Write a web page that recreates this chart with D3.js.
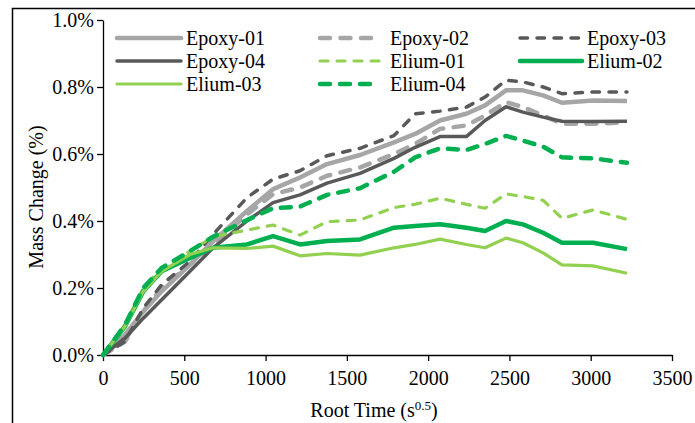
<html>
<head>
<meta charset="utf-8">
<style>
  body { margin: 0; background: #fff; }
  .axis path, .axis line { stroke: #000; stroke-width: 1.3; }
</style>
<script src="https://cdn.jsdelivr.net/npm/d3@7"></script>
</head>
<body>
<svg id="chart" width="695" height="423" font-family="'Liberation Serif', serif"></svg>
<script>
// root time (s^0.5) of each weighing
var times = [0, 135, 248, 361, 535, 677, 886, 1046, 1212, 1378, 1581, 1790, 1920, 2073, 2235, 2350, 2479, 2583, 2707, 2823, 3014, 3223];

// mass change (%) per sample
var epoxy01 = [0, 0.06, 0.13, 0.19, 0.27, 0.34, 0.43, 0.495, 0.53, 0.57, 0.597, 0.635, 0.66, 0.70, 0.72, 0.745, 0.79, 0.79, 0.775, 0.753, 0.76, 0.758];
var epoxy02 = [0, 0.04, 0.13, 0.20, 0.27, 0.33, 0.42, 0.48, 0.50, 0.535, 0.56, 0.60, 0.63, 0.675, 0.685, 0.715, 0.755, 0.74, 0.715, 0.69, 0.69, 0.695];
var epoxy03 = [0, 0.04, 0.14, 0.21, 0.28, 0.36, 0.47, 0.525, 0.55, 0.595, 0.617, 0.655, 0.72, 0.728, 0.74, 0.77, 0.82, 0.815, 0.80, 0.78, 0.785, 0.785];
var epoxy04 = [0, 0.05, 0.11, 0.165, 0.25, 0.32, 0.40, 0.455, 0.478, 0.513, 0.542, 0.587, 0.62, 0.652, 0.652, 0.70, 0.741, 0.725, 0.71, 0.698, 0.697, 0.698];
var elium01 = [0, 0.09, 0.20, 0.26, 0.31, 0.353, 0.373, 0.388, 0.358, 0.398, 0.403, 0.44, 0.45, 0.468, 0.45, 0.438, 0.481, 0.473, 0.462, 0.408, 0.433, 0.405];
var elium02 = [0, 0.085, 0.19, 0.25, 0.29, 0.32, 0.33, 0.355, 0.33, 0.34, 0.345, 0.38, 0.385, 0.39, 0.38, 0.37, 0.40, 0.39, 0.365, 0.335, 0.335, 0.316];
var elium03 = [0, 0.085, 0.19, 0.25, 0.30, 0.32, 0.318, 0.325, 0.296, 0.303, 0.298, 0.32, 0.33, 0.346, 0.33, 0.32, 0.349, 0.335, 0.305, 0.269, 0.266, 0.244];
var elium04 = [0, 0.09, 0.20, 0.26, 0.31, 0.353, 0.403, 0.438, 0.443, 0.478, 0.498, 0.547, 0.59, 0.617, 0.612, 0.63, 0.654, 0.64, 0.622, 0.59, 0.587, 0.574];

var names = ["Epoxy-01", "Epoxy-02", "Epoxy-03", "Epoxy-04", "Elium-01", "Elium-02", "Elium-03", "Elium-04"];
var values = [epoxy01, epoxy02, epoxy03, epoxy04, elium01, elium02, elium03, elium04];
var xTicks = [0, 500, 1000, 1500, 2000, 2500, 3000, 3500];
var yTicks = [0, 0.2, 0.4, 0.6, 0.8, 1.0];

var styles = [
  {color: "#a6a6a6", width: 4.5, dash: null},
  {color: "#a6a6a6", width: 4.5, dash: "10,10.5"},
  {color: "#595959", width: 3.5, dash: "7.5,9.5"},
  {color: "#595959", width: 3.5, dash: null},
  {color: "#92d050", width: 3.2, dash: "8,9"},
  {color: "#00b050", width: 4.5, dash: null},
  {color: "#92d050", width: 3.2, dash: null},
  {color: "#00b050", width: 4.5, dash: "10,10"}
];

var serif = "'Liberation Serif', serif";
var fs = 20;
var svg = d3.select("#chart");

// outer frame (right/bottom fall outside the picture)
svg.append("rect")
  .attr("x", 12.5).attr("y", 8.5)
  .attr("width", 720).attr("height", 440)
  .attr("fill", "none").attr("stroke", "#000").attr("stroke-width", 1.5);

var x = d3.scaleLinear().domain([0, 3500]).range([103, 672]);
var y = d3.scaleLinear().domain([0, 1.0]).range([355, 20]);

var xAxis = svg.append("g").attr("class", "axis")
  .attr("transform", "translate(0,355)")
  .call(d3.axisBottom(x).tickValues(xTicks).tickSize(6).tickSizeOuter(0).tickPadding(8)
    .tickFormat(d3.format("d")));
xAxis.selectAll("text").attr("dy", "0.8em");

var yAxis = svg.append("g").attr("class", "axis")
  .attr("transform", "translate(103,0)")
  .call(d3.axisLeft(y).tickValues(yTicks).tickSize(6).tickSizeOuter(0).tickPadding(3)
    .tickFormat(function(d) { return d.toFixed(1) + "%"; }));

svg.selectAll(".axis").attr("font-family", serif).attr("font-size", fs);
svg.selectAll(".axis text").attr("fill", "#000");

// axis titles
svg.append("text")
  .attr("transform", "translate(43,197) rotate(-90)")
  .attr("text-anchor", "middle").attr("font-size", fs)
  .text("Mass Change (%)");

var xt = svg.append("text")
  .attr("x", 374).attr("y", 417)
  .attr("text-anchor", "middle").attr("font-size", fs);
xt.append("tspan").text("Root Time (s");
xt.append("tspan").attr("font-size", 13).attr("dy", -7).text("0.5");
xt.append("tspan").attr("dy", 7).text(")");

var line = d3.line()
  .x(function(d, i) { return x(times[i]); })
  .y(function(d) { return y(d); });

values.forEach(function(v, i) {
  svg.append("path")
    .datum(v)
    .attr("d", line)
    .attr("fill", "none")
    .attr("stroke", styles[i].color)
    .attr("stroke-width", styles[i].width)
    .attr("stroke-dasharray", styles[i].dash)
    .attr("stroke-linecap", styles[i].dash ? "round" : "butt")
    .attr("stroke-linejoin", "round");
});

// legend, three columns
var colX = [117, 320, 520];
var colLen = [64, 60, 62];
var textGap = [5, 10, 5];
var rowY = [38, 61, 84];
var legend = svg.append("g");
names.forEach(function(n, i) {
  var c = i % 3, r = Math.floor(i / 3);
  var g = legend.append("g").attr("transform", "translate(" + colX[c] + "," + rowY[r] + ")");
  g.append("line")
    .attr("x1", 0).attr("x2", colLen[c]).attr("y1", 0).attr("y2", 0)
    .attr("stroke", styles[i].color)
    .attr("stroke-width", styles[i].width)
    .attr("stroke-dasharray", styles[i].dash)
    .attr("stroke-linecap", "round");
  g.append("text")
    .attr("x", colLen[c] + textGap[c]).attr("y", 7)
    .attr("font-size", fs)
    .text(n);
});

svg.selectAll("text").style("font-family", serif);
</script>
</body>
</html>
